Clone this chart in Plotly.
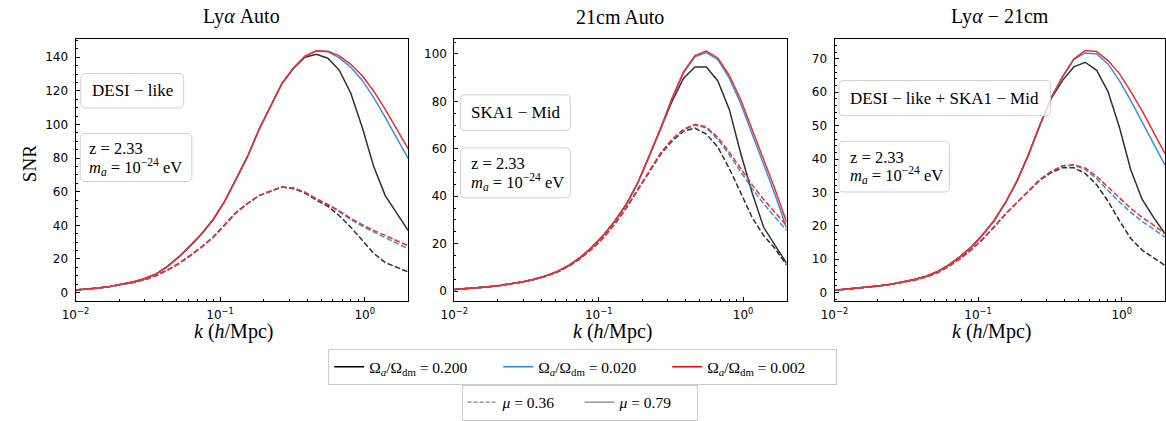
import plotly.graph_objects as go

# ---------------- data ----------------
k = [0.0100, 0.0120, 0.0144, 0.0173, 0.0208, 0.0249, 0.0299, 0.0359, 0.0431, 0.0518,
     0.0621, 0.0746, 0.0896, 0.1075, 0.1290, 0.1549, 0.1859, 0.2232, 0.2680, 0.3216,
     0.3861, 0.4635, 0.5564, 0.6679, 0.8018, 0.9627, 1.1556, 1.3873, 1.6655, 2.0000]

# Ly-alpha auto
lya_solid_black = [1.6, 2.0, 2.8, 3.7, 5.0, 6.3, 8.2, 11.0, 15.5, 21.2, 27.8, 35.0, 43.5, 54.3, 67.5,
                   81.0, 97.0, 110.8, 124.4, 133.3, 140.0, 141.8, 139.4, 132.2, 118.6, 98.2, 74.8, 57.7, 47.6, 36.9]
lya_solid_blue = [1.6, 2.0, 2.8, 3.7, 5.0, 6.3, 8.2, 11.0, 15.5, 21.2, 27.8, 35.0, 43.5, 54.3, 67.5,
                  81.0, 97.0, 110.8, 124.4, 133.6, 140.5, 143.6, 143.2, 139.6, 134.0, 126.2, 116.0, 104.2, 92.2, 79.7]
lya_solid_red = [1.6, 2.0, 2.8, 3.7, 5.0, 6.3, 8.2, 11.0, 15.5, 21.2, 27.8, 35.0, 43.5, 54.3, 67.5,
                 81.0, 97.0, 110.8, 124.4, 133.6, 140.6, 143.9, 143.6, 140.8, 135.8, 129.0, 119.8, 109.0, 97.4, 85.5]
lya_dash_black = [1.6, 2.0, 2.7, 3.6, 4.8, 6.0, 7.7, 10.0, 13.3, 17.3, 22.0, 27.2, 33.0, 40.0, 47.6,
                  53.0, 57.7, 60.3, 62.8, 61.8, 59.2, 55.0, 51.3, 45.7, 38.9, 31.1, 23.3, 17.9, 15.0, 12.2]
lya_dash_blue = [1.6, 2.0, 2.7, 3.6, 4.8, 6.0, 7.7, 10.0, 13.3, 17.3, 22.0, 27.2, 33.0, 40.0, 47.6,
                 53.0, 57.7, 60.3, 62.8, 62.2, 59.6, 55.6, 52.2, 48.0, 43.4, 39.5, 35.8, 32.6, 29.4, 26.0]
lya_dash_red = [1.6, 2.0, 2.7, 3.6, 4.8, 6.0, 7.7, 10.0, 13.3, 17.3, 22.0, 27.2, 33.0, 40.0, 47.6,
                53.0, 57.7, 60.3, 62.8, 62.2, 59.7, 55.8, 52.5, 48.6, 44.1, 40.4, 36.9, 34.0, 31.1, 27.8]

# 21cm auto
h21_solid_black = [0.7, 1.0, 1.4, 1.8, 2.4, 3.0, 3.9, 5.0, 6.4, 8.3, 10.8, 14.2, 18.5, 23.5, 29.5,
                   36.5, 45.5, 56.8, 68.3, 80.0, 89.7, 94.5, 94.5, 88.6, 76.6, 58.0, 41.4, 26.9, 19.3, 11.7]
h21_solid_blue = [0.7, 1.0, 1.4, 1.8, 2.4, 3.0, 3.9, 5.0, 6.4, 8.3, 10.8, 14.2, 18.5, 23.5, 29.5,
                  36.5, 45.5, 56.8, 68.5, 81.1, 92.0, 98.8, 100.6, 97.6, 89.8, 79.0, 66.2, 53.5, 40.5, 26.5]
h21_solid_red = [0.7, 1.0, 1.4, 1.8, 2.4, 3.0, 3.9, 5.0, 6.4, 8.3, 10.8, 14.2, 18.5, 23.5, 29.5,
                 36.5, 45.5, 56.8, 68.5, 81.3, 92.4, 99.3, 101.2, 98.3, 91.0, 80.7, 68.3, 55.9, 42.8, 29.0]
h21_dash_black = [0.7, 1.0, 1.4, 1.8, 2.4, 3.0, 3.9, 5.0, 6.3, 8.1, 10.5, 13.8, 17.8, 22.5, 28.3,
                  35.0, 42.6, 50.4, 57.6, 63.2, 67.4, 68.7, 66.2, 60.7, 51.7, 41.4, 31.0, 23.4, 17.9, 11.0]
h21_dash_blue = [0.7, 1.0, 1.4, 1.8, 2.4, 3.0, 3.9, 5.0, 6.3, 8.1, 10.5, 13.8, 17.8, 22.5, 28.3,
                 35.0, 42.8, 50.8, 58.1, 63.8, 68.0, 70.0, 68.8, 64.0, 57.5, 50.3, 43.2, 36.8, 31.2, 25.5]
h21_dash_red = [0.7, 1.0, 1.4, 1.8, 2.4, 3.0, 3.9, 5.0, 6.3, 8.1, 10.5, 13.8, 17.8, 22.5, 28.3,
                35.0, 42.8, 50.8, 58.2, 64.0, 68.2, 70.3, 69.2, 64.8, 58.6, 51.7, 44.8, 38.6, 33.1, 27.6]

# Ly-alpha x 21cm
x_solid_black = [0.7, 1.0, 1.3, 1.7, 2.0, 2.5, 3.1, 3.9, 4.8, 6.2, 8.2, 10.7, 13.6, 17.3, 21.5,
                 26.9, 33.3, 41.1, 50.0, 58.0, 63.5, 67.6, 69.0, 66.6, 60.2, 49.5, 36.7, 27.9, 22.5, 17.6]
x_solid_blue = [0.7, 1.0, 1.3, 1.7, 2.0, 2.5, 3.1, 3.9, 4.8, 6.2, 8.2, 10.7, 13.6, 17.3, 21.5,
                26.9, 33.3, 41.1, 50.0, 58.3, 64.5, 69.8, 71.8, 71.5, 68.5, 63.5, 57.5, 51.0, 44.3, 38.2]
x_solid_red = [0.7, 1.0, 1.3, 1.7, 2.0, 2.5, 3.1, 3.9, 4.8, 6.2, 8.2, 10.7, 13.6, 17.3, 21.5,
               26.9, 33.3, 41.1, 50.0, 58.3, 64.6, 70.0, 72.5, 72.2, 69.5, 65.6, 60.2, 54.4, 48.0, 41.6]
x_dash_black = [0.7, 1.0, 1.3, 1.7, 2.0, 2.5, 3.0, 3.7, 4.6, 5.9, 7.8, 10.1, 12.8, 16.0, 19.6,
                23.5, 26.9, 30.3, 33.6, 35.9, 37.4, 37.4, 35.7, 32.3, 27.4, 21.5, 16.2, 12.7, 10.5, 8.1]
x_dash_blue = [0.7, 1.0, 1.3, 1.7, 2.0, 2.5, 3.0, 3.7, 4.6, 5.9, 7.8, 10.1, 12.8, 16.0, 19.6,
               23.5, 26.9, 30.4, 33.8, 36.2, 37.9, 38.1, 36.9, 34.1, 30.6, 27.1, 24.0, 21.3, 19.0, 16.6]
x_dash_red = [0.7, 1.0, 1.3, 1.7, 2.0, 2.5, 3.0, 3.7, 4.6, 5.9, 7.8, 10.1, 12.8, 16.0, 19.6,
              23.5, 26.9, 30.4, 33.8, 36.2, 38.0, 38.3, 37.3, 34.8, 31.6, 28.2, 25.2, 22.5, 20.2, 17.6]

titles = ["Ly<i>α</i> Auto", "21cm Auto", "Ly<i>α</i> − 21cm"]
survey_labels = ["DESI − like", "SKA1 − Mid", "DESI − like + SKA1 − Mid"]
info_lines = ["z = 2.33", "<i>m</i><sub><i>a</i></sub> = 10<sup>−24</sup> eV"]
omega_labels = ["Ω<sub><i>a</i></sub>/Ω<sub>dm</sub> = 0.200",
                "Ω<sub><i>a</i></sub>/Ω<sub>dm</sub> = 0.020",
                "Ω<sub><i>a</i></sub>/Ω<sub>dm</sub> = 0.002"]
mu_labels = ["<i>μ</i> = 0.36", "<i>μ</i> = 0.79"]

# ---------------- styling ----------------
W, H = 1166, 421
SERIF = "Liberation Serif, Times New Roman, serif"
SANS = "DejaVu Sans, sans-serif"
line_colors = ["#303030", "#3a8ee8", "#f42a2a"]
legend_colors = ["#000000", "#1e88e5", "#ff0000"]
DASH = "5.5px,2.4px"

panels = [
    dict(x=(62.3, 399.0), yr=(-5.1, 150.7), dt=20, mdt=5,
         solid=[lya_solid_black, lya_solid_blue, lya_solid_red],
         dash=[lya_dash_black, lya_dash_blue, lya_dash_red],
         boxA=(67.7, 75, 171.7, 110), boxB=(67, 136, 180, 185), txtB=(74, 151, 170)),
    dict(x=(445.7, 782.0), yr=(-4.25, 106.2), dt=20, mdt=5,
         solid=[h21_solid_black, h21_solid_blue, h21_solid_red],
         dash=[h21_dash_black, h21_dash_blue, h21_dash_red],
         boxA=(451.7, 96.7, 563, 133), boxB=(452, 150.7, 563, 201.7), txtB=(461, 166.5, 185.5)),
    dict(x=(830.5, 1165.0), yr=(-2.6, 75.9), dt=10, mdt=2,
         solid=[x_solid_black, x_solid_blue, x_solid_red],
         dash=[x_dash_black, x_dash_blue, x_dash_red],
         boxA=(835, 82, 1049, 118), boxB=(835, 144, 946.7, 195.7), txtB=(844, 160.5, 178.5)),
]
Y_TOP, Y_BOT = 40.0, 307.0


def px(xp, yp):
    return xp / W, 1 - yp / H


def rounded_rect(x0, y0, x1, y1, r=5):
    def P(a, b):
        u, v = px(a, b)
        return f"{u:.5f},{v:.5f}"
    return (f"M {P(x0 + r, y0)} L {P(x1 - r, y0)} Q {P(x1, y0)} {P(x1, y0 + r)} "
            f"L {P(x1, y1 - r)} Q {P(x1, y1)} {P(x1 - r, y1)} "
            f"L {P(x0 + r, y1)} Q {P(x0, y1)} {P(x0, y1 - r)} "
            f"L {P(x0, y0 + r)} Q {P(x0, y0)} {P(x0 + r, y0)} Z")


fig = go.Figure()
shapes, annotations = [], []
minor_x = [m * 10.0 ** e for e in (-2, -1, 0) for m in range(2, 10) if m * 10.0 ** e <= 2.0]

for i, p in enumerate(panels):
    sfx = "" if i == 0 else str(i + 1)
    xa, ya = "x" + sfx, "y" + sfx
    for c in range(3):
        fig.add_trace(go.Scatter(x=k, y=p["dash"][c], mode="lines", xaxis=xa, yaxis=ya,
                                 line=dict(color=line_colors[c], width=1.5, dash=DASH),
                                 showlegend=False, hoverinfo="skip"))
        fig.add_trace(go.Scatter(x=k, y=p["solid"][c], mode="lines", xaxis=xa, yaxis=ya,
                                 line=dict(color=line_colors[c], width=1.5),
                                 showlegend=False, hoverinfo="skip"))
    common_ax = dict(showline=True, linecolor="black", linewidth=1, mirror=True,
                     showgrid=False, zeroline=False, ticks="inside", ticklen=4, tickwidth=1,
                     tickcolor="black", tickfont=dict(family=SANS, size=12, color="black"))
    fig.layout["xaxis" + sfx] = dict(
        common_ax, type="log", range=[-2, 0.30103], domain=[p["x"][0] / W, p["x"][1] / W],
        anchor=ya, tickvals=[0.01, 0.1, 1],
        ticktext=["10<sup>−2</sup>", "10<sup>−1</sup>", "10<sup>0</sup>"],
        ticklabelstandoff=2,
        minor=dict(tickvals=minor_x, ticks="inside", ticklen=2, tickwidth=0.8, tickcolor="black"))
    fig.layout["yaxis" + sfx] = dict(
        common_ax, range=list(p["yr"]), domain=[1 - Y_BOT / H, 1 - Y_TOP / H], anchor=xa,
        dtick=p["dt"], tick0=0, ticklabelstandoff=4,
        minor=dict(dtick=p["mdt"], tick0=0, ticks="inside", ticklen=2, tickwidth=0.8, tickcolor="black"))

    xc = (p["x"][0] + p["x"][1]) / 2
    annotations.append(dict(text=titles[i], x=xc / W, y=1 - 17 / H, xref="paper", yref="paper",
                            showarrow=False, xanchor="center", yanchor="middle",
                            font=dict(family=SERIF, size=20, color="black")))
    annotations.append(dict(text="<i>k</i> (<i>h</i>/Mpc)", x=(xc - 8) / W, y=1 - 338 / H,
                            xref="paper", yref="paper", showarrow=False,
                            xanchor="center", yanchor="middle",
                            font=dict(family=SERIF, size=20, color="black")))
    for (bx0, by0, bx1, by1) in (p["boxA"], p["boxB"]):
        shapes.append(dict(type="path", path=rounded_rect(bx0, by0, bx1, by1), xref="paper",
                           yref="paper", fillcolor="rgba(255,255,255,0.8)",
                           line=dict(color="#d0d0d0", width=1), layer="above"))
    bx0, by0, bx1, by1 = p["boxA"]
    annotations.append(dict(text=survey_labels[i], x=(bx0 + bx1) / 2 / W, y=1 - (by0 + by1) / 2 / H,
                            xref="paper", yref="paper", showarrow=False,
                            xanchor="center", yanchor="middle",
                            font=dict(family=SERIF, size=17, color="black")))
    tx, ty1, ty2 = p["txtB"]
    for line_txt, ty in zip(info_lines, (ty1, ty2)):
        annotations.append(dict(text=line_txt, x=tx / W, y=1 - ty / H, xref="paper", yref="paper",
                                showarrow=False, xanchor="left", yanchor="middle",
                                font=dict(family=SERIF, size=16.5, color="black")))

annotations.append(dict(text="SNR", x=16.5 / W, y=1 - 167 / H, xref="paper", yref="paper",
                        showarrow=False, textangle=-90, xanchor="center", yanchor="middle",
                        font=dict(family=SERIF, size=19, color="black")))

# legend entries
for c in range(3):
    fig.add_trace(go.Scatter(x=[None], y=[None], mode="lines", name=omega_labels[c],
                             line=dict(color=legend_colors[c], width=1.5), legend="legend"))
fig.add_trace(go.Scatter(x=[None], y=[None], mode="lines", name=mu_labels[0],
                         line=dict(color="#808080", width=1.2, dash="4px,2px"), legend="legend2"))
fig.add_trace(go.Scatter(x=[None], y=[None], mode="lines", name=mu_labels[1],
                         line=dict(color="#808080", width=1.2), legend="legend2"))

fig.update_layout(
    width=W, height=H, margin=dict(l=0, r=0, t=0, b=0),
    paper_bgcolor="white", plot_bgcolor="white",
    shapes=shapes, annotations=annotations,
    legend=dict(orientation="h", x=318 / W, xanchor="left", y=1 - 356 / H, yanchor="top",
                bgcolor="white", bordercolor="#cccccc", borderwidth=1, itemwidth=30,
                font=dict(family=SERIF, size=15.5, color="black"),
                entrywidth=124, entrywidthmode="pixels"),
    legend2=dict(orientation="h", x=453 / W, xanchor="left", y=1 - 392 / H, yanchor="top",
                 bgcolor="white", bordercolor="#cccccc", borderwidth=1, itemwidth=30,
                 font=dict(family=SERIF, size=15.5, color="black"),
                 entrywidth=72, entrywidthmode="pixels"),
)

fig.write_html("out.html", config={"displayModeBar": False},
               post_script="document.body.style.margin='0';document.body.style.overflow='hidden';")
